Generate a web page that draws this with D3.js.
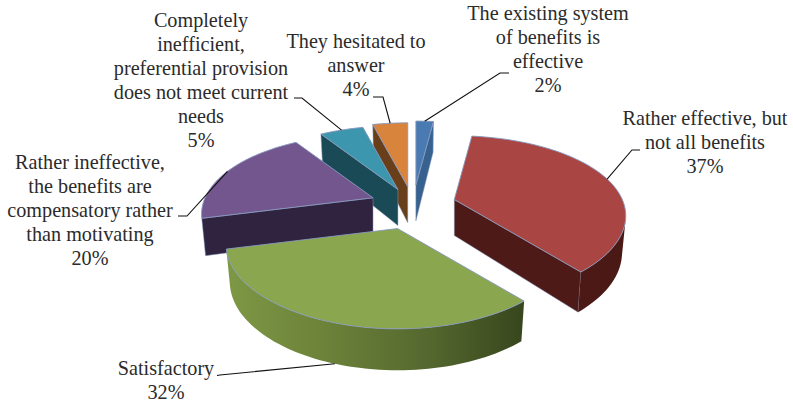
<!DOCTYPE html>
<html><head><meta charset="utf-8">
<script src="https://cdn.jsdelivr.net/npm/d3@7/dist/d3.min.js"></script>
<style>html,body{margin:0;padding:0;background:#fff}svg{display:block}text{font-family:"Liberation Serif",serif;font-size:20.2px;fill:#2b2b2b}</style>
</head><body><svg id="c" width="793" height="403"></svg>
<script>
// Data
const categories = [
  ["The existing system","of benefits is","effective"],
  ["Rather effective, but","not all benefits"],
  ["Satisfactory"],
  ["Rather ineffective,","the benefits are","compensatory rather","than motivating"],
  ["Completely","inefficient,","preferential provision","does not meet current","needs"],
  ["They hesitated to","answer"]
];
const values = [2,37,32,20,5,4];
const topColors = ["#4a7ab2","#a94542","#8aa64e","#74568f","#3c96ae","#d9843c"];
const cutColors = ["#37628f","#4d1a17","#3f5022","#30233f","#1b4a57","#693f1b"];
const rimStops = [
  ["#3f6a9c","#37628f"],
  ["#4f1b18","#4a1815"],
  ["#7d9845","#6c8239","#55692f","#37461d"],
  ["#30233f","#2c203c"],
  ["#1b4a57","#1b4a57"],
  ["#693f1b","#693f1b"]
];

// Layout
const cx=413, cy=205, R=168, ry=78, perspY=4.5, perspX=5, h=36, shrink=0.022;
const explode=[46,43,50,43,38,42];
const labelX=[548,705,166,90,201,356];
const labelY=[20,125,375,169,27,48];
const lineH=24;
const elbows=[[[500,73],[509,73]],[[632,150],[640,150]],[[220,375],[217,375.5]],[[187,216],[178,216]],[[302,98],[294,98]],[[383,97],[373,97]]];
const leaderDepth=[0,0,1,0,0,0];

const svg=d3.select("#c");
const defs=svg.append("defs");
const pie=d3.pie().sort(null).value(d=>d).startAngle(0).endAngle(2*Math.PI);
const arcs=pie(values);
const line=d3.line();

function project(off,a,r,y){
  const X=r*Math.sin(a), Z=-r*Math.cos(a);
  const sy=perspY/(perspY-Z), sx=perspX/(perspX-Z);
  const k=1-shrink*y;
  const ox=cx+off[0]*R, oy=cy+off[1]*ry*perspY/(perspY-off[1]);
  return [ox+X*R*sx*k, oy+Z*ry*sy+y*h*(1+0.15*Z)];
}
const slices=arcs.map((d,i)=>{
  const mid=(d.startAngle+d.endAngle)/2;
  const e=explode[i]/R;
  const off=[e*Math.sin(mid),-e*Math.cos(mid)];
  const n=Math.max(4,Math.round((d.endAngle-d.startAngle)/0.03));
  const angles=d3.range(n+1).map(j=>d.startAngle+(d.endAngle-d.startAngle)*j/n);
  return {i,d,mid,off,angles};
});
const signed=q=>d3.polygonArea(q);
// back-to-front
const order=[0,5,4,3,1,2];
const g=svg.append("g");
const stroke="#8799bd";
order.forEach(i=>{
  const s=slices[i],off=s.off;
  const sg=g.append("g");
  const gid="rim"+i;
  const xs=s.angles.map(a=>project(off,a,1,0)[0]);
  const grad=defs.append("linearGradient").attr("id",gid).attr("gradientUnits","userSpaceOnUse")
    .attr("x1",d3.min(xs)).attr("x2",d3.max(xs)).attr("y1",0).attr("y2",0);
  rimStops[i].forEach((c,j,arr)=>grad.append("stop").attr("offset",j/(arr.length-1)).attr("stop-color",c));
  // cut faces
  [s.d.startAngle,s.d.endAngle].forEach((a,k)=>{
    const q=[project(off,a,0,0),project(off,a,1,0),project(off,a,1,1),project(off,a,0,1)];
    if(signed(q)*(k===0?1:-1)>0){
      sg.append("path").attr("d",line(q)+"Z").attr("fill",cutColors[i]).attr("stroke",stroke).attr("stroke-width",0.5);
    }
  });
  // rim: one polygon over the front-facing angles
  const vis=s.angles.filter((a,j)=>{
    if(j===s.angles.length-1) return signed([project(off,s.angles[j-1],1,0),project(off,a,1,0),project(off,a,1,1),project(off,s.angles[j-1],1,1)])>0;
    const b=s.angles[j+1];
    return signed([project(off,a,1,0),project(off,b,1,0),project(off,b,1,1),project(off,a,1,1)])>0;
  });
  if(vis.length>1){
    const poly=[...vis.map(a=>project(off,a,1,0)),...vis.slice().reverse().map(a=>project(off,a,1,1))];
    sg.append("path").attr("d",line(poly)+"Z").attr("fill",`url(#${gid})`);
  }
  // top
  const top=[project(off,s.d.startAngle,0,0)];
  s.angles.forEach(a=>top.push(project(off,a,1,0)));
  sg.append("path").attr("d",line(top)+"Z").attr("fill",topColors[i]).attr("stroke",stroke).attr("stroke-width",0.9).attr("stroke-linejoin","round");
});

// Leaders
slices.forEach(s=>{
  const start=project(s.off,s.mid,1,leaderDepth[s.i]);
  svg.append("path").attr("d",line([start,...elbows[s.i]])).attr("fill","none").attr("stroke","#111").attr("stroke-width",1.1);
});

// Labels
categories.forEach((lines,i)=>{
  const t=svg.append("text").attr("text-anchor","middle");
  [...lines,values[i]+"%"].forEach((l,j)=>{
    t.append("tspan").attr("x",labelX[i]).attr("y",labelY[i]+j*lineH).text(l);
  });
});
</script></body></html>
